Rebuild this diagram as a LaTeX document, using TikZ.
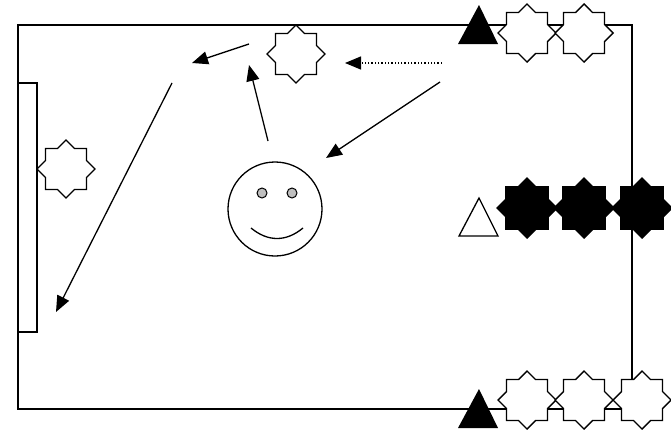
\documentclass[tikz,border=0pt]{standalone}
\usetikzlibrary{arrows.meta}
\newcommand{\octastar}[4]{%
  \coordinate (#1) at (#2);
  \draw[starline,fill=#3] ([shift={(#1)}]0:#4)
    \foreach \a/\rr in {22.5/0.7654,45/1,67.5/0.7654,90/1,112.5/0.7654,135/1,157.5/0.7654,180/1,202.5/0.7654,225/1,247.5/0.7654,270/1,292.5/0.7654,315/1,337.5/0.7654}
    { -- ([shift={(#1)}]\a:{\rr*#4}) } -- cycle;}
\begin{document}
\begin{tikzpicture}[x=1pt,y=-1pt,line width=1.3pt,
  starline/.style={draw=black,line width=1.4pt,line join=miter},
  arr/.style={-{Triangle[length=16pt,width=13pt]},line width=1.3pt},
  dotarr/.style={arr,dotted}]
\useasboundingbox (0,0) rectangle (671,431);
% field
\draw (18,25) rectangle (632,409);
\draw (18,83) rectangle (37,332);
% left and top stars
\octastar{sl}{66,169}{white}{29}
\octastar{st}{296,54}{white}{29}
% top right
\fill (479,5) -- (498,44) -- (458,44) -- cycle;
\octastar{t1}{527,33}{white}{29}
\octastar{t2}{584,33}{white}{29}
% middle right
\draw (479,198) -- (498,236) -- (459,236) -- cycle;
\octastar{m1}{527,208}{black}{30}
\octastar{m2}{584,208}{black}{30}
\octastar{m3}{642,208}{black}{30}
% bottom right
\octastar{b1}{527,400}{white}{29}
\octastar{b2}{584,400}{white}{29}
\octastar{b3}{642,400}{white}{29}
\fill (479,389) -- (498,428) -- (458,428) -- cycle;
% smiley
\node[circle,draw,minimum size=94pt,inner sep=0pt] (face) at (275,209) {};
\node[circle,draw,fill=black!25,minimum size=10pt,inner sep=0pt,line width=1pt] (e1) at (262,193) {};
\node[circle,draw,fill=black!25,minimum size=10pt,inner sep=0pt,line width=1pt] (e2) at (292,193) {};
\draw (251,228) .. controls (268,242) and (286,242) .. (303,228);
% arrows
\coordinate (a1s) at (249,44); \coordinate (a1e) at (192,63);
\coordinate (a2s) at (268,141); \coordinate (a2e) at (249,65);
\coordinate (a3s) at (442,63); \coordinate (a3e) at (345,63);
\coordinate (a4s) at (440,82); \coordinate (a4e) at (326,158);
\coordinate (a5s) at (172,83); \coordinate (a5e) at (56,312);
\draw[arr] (a1s) -- (a1e);
\draw[arr] (a2s) -- (a2e);
\draw[dotarr] (a3s) -- (a3e);
\draw[arr] (a4s) -- (a4e);
\draw[arr] (a5s) -- (a5e);
\end{tikzpicture}
\end{document}
